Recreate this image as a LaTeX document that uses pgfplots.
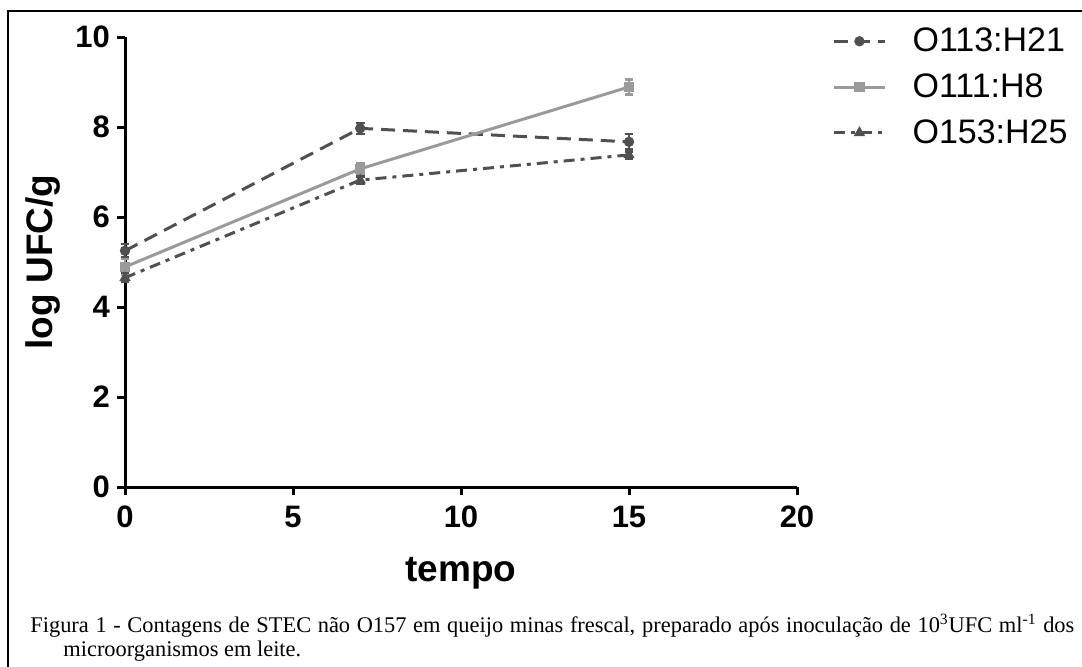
\documentclass[border=0pt]{standalone}
\usepackage{pgfplots}
\pgfplotsset{compat=1.18}
\usepackage{fontspec}
\setmainfont{Liberation Serif}
\newfontfamily\arial{Liberation Sans}
\definecolor{darkser}{HTML}{505050}
\definecolor{lightser}{HTML}{9A9A9A}

\begin{document}
\begin{tikzpicture}
% 1 px of the reference = 0.5pt
\useasboundingbox (0,0) rectangle (541pt,333pt);
\draw[line width=1pt] (4pt,-5pt) -- (4pt,327.5pt) -- (545pt,327.5pt);

\begin{axis}[
    at={(62.5pt,89.5pt)}, anchor=origin,
    scale only axis,
    width=336pt, height=225pt,
    xmin=0, xmax=20, ymin=0, ymax=10,
    axis x line*=bottom, axis y line*=left,
    axis line style={line width=1.5pt, -},
    xtick={0,5,10,15,20}, ytick={0,2,4,6,8,10},
    tick align=outside, major tick length=4pt,
    tick style={line width=1.5pt, black},
    ticklabel style={font=\arial\bfseries\fontsize{15.5}{18}\selectfont},
    xticklabel style={yshift=-2pt},
    /pgf/number format/assume math mode=true,
    xlabel={tempo}, ylabel={log UFC/g},
    label style={font=\arial\bfseries\fontsize{18.5}{22}\selectfont},
    xlabel style={at={(0.5,0)}, anchor=base, yshift=-47pt},
    ylabel style={at={(0,0.5)}, anchor=south, yshift=29pt},
    clip=false,
    legend style={at={(1.052,1.03)}, anchor=north west, draw=none,
        font=\arial\fontsize{17}{20}\selectfont, row sep=5.5pt,
        fill=none, inner sep=0pt,
        /tikz/every odd column/.append style={column sep=11pt}},
    legend cell align=left,
    legend image code/.code={
        \draw[mark repeat=2, mark phase=2, #1] plot coordinates {(0cm,0cm) (0.45cm,0cm) (0.9cm,0cm)};},
]
\addplot[darkser, line width=1.5pt, dash pattern=on 7pt off 4pt,
    mark=*, mark size=1.8pt, mark options={solid},
    error bars/.cd, y dir=both, y explicit,
    error bar style={line width=1.2pt, solid},
    error mark options={rotate=90, mark size=2.2pt, line width=1.2pt}]
    coordinates {
    (0, 5.25) +- (0, 0.15)
    (7, 7.97) +- (0, 0.12)
    (15, 7.67) +- (0, 0.17)
};
\addlegendentry{O113:H21}
\addplot[lightser, line width=1.5pt,
    mark=square*, mark size=1.8pt,
    error bars/.cd, y dir=both, y explicit,
    error bar style={line width=1.2pt},
    error mark options={rotate=90, mark size=2.2pt, line width=1.2pt}]
    coordinates {
    (0, 4.89) +- (0, 0.18)
    (7, 7.07) +- (0, 0.13)
    (15, 8.89) +- (0, 0.17)
};
\addlegendentry{O111:H8}
\addplot[darkser, line width=1.5pt, dash pattern=on 5.5pt off 3pt on 2pt off 3pt,
    mark=triangle*, mark size=1.8pt, mark options={solid},
    error bars/.cd, y dir=both, y explicit,
    error bar style={line width=1.2pt, solid},
    error mark options={rotate=90, mark size=2.2pt, line width=1.2pt}]
    coordinates {
    (0, 4.65) +- (0, 0.1)
    (7, 6.82) +- (0, 0.08)
    (15, 7.38) +- (0, 0.08)
};
\addlegendentry{O153:H25}
\end{axis}

\node[anchor=base west, inner sep=0pt, font=\fontsize{11.2}{12}\selectfont] at (15pt,17pt)
    {\makebox[522pt][s]{Figura 1 - Contagens de STEC não O157 em queijo minas frescal, preparado após inoculação de 10\textsuperscript{3}UFC ml\textsuperscript{-1} dos}};
\node[anchor=base west, inner sep=0pt, font=\fontsize{11.2}{12}\selectfont] at (31.5pt,5pt)
    {microorganismos em leite.};
\end{tikzpicture}
\end{document}
